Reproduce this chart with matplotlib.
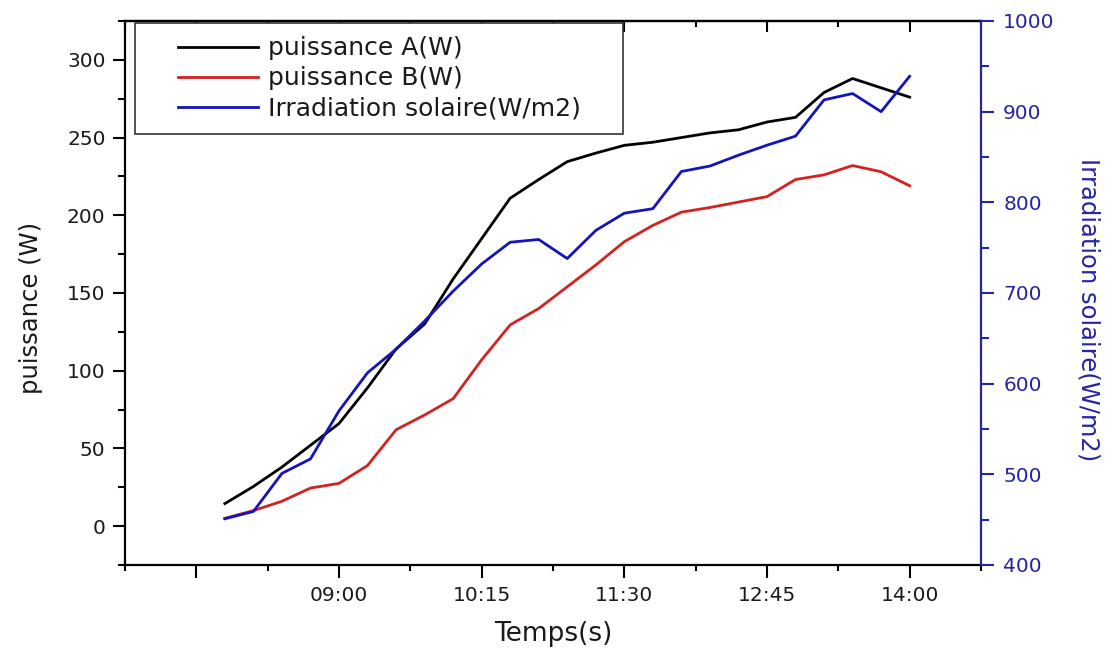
import numpy as np
import matplotlib.pyplot as plt
from matplotlib.ticker import MultipleLocator, FixedLocator
from matplotlib.lines import Line2D
from matplotlib.legend_handler import HandlerLine2D

# mesures toutes les 15 min
times = ['08:00', '08:15', '08:30', '08:45', '09:00', '09:15', '09:30', '09:45',
         '10:00', '10:15', '10:30', '10:45', '11:00', '11:15', '11:30', '11:45',
         '12:00', '12:15', '12:30', '12:45', '13:00', '13:15', '13:30', '13:45',
         '14:00']
puissance_a = [14.5, 25.5, 38, 52, 66, 89, 114, 130, 159, 185, 211, 223, 234.5,
               240, 245, 247, 250, 253, 255, 260, 263, 279, 288, 282, 276]
puissance_b = [5, 10, 16, 24.5, 27.5, 39, 62, 71.5, 82, 107, 129.5, 140, 154,
               168, 183, 193.5, 202, 205, 208.5, 212, 223, 226, 232, 228, 219]
irradiation = [451, 459, 501, 517, 570, 612, 638, 669, 702, 732, 756, 759, 738,
               769, 788, 793, 834, 840, 852, 863, 873, 913, 920, 900, 939]

tick_times = ['07:45', '09:00', '10:15', '11:30', '12:45', '14:00']
tick_labels = ['', '09:00', '10:15', '11:30', '12:45', '14:00']
minor_times = ['07:07:30', '08:22:30', '09:37:30', '10:52:30', '12:07:30',
               '13:22:30', '14:37:30']

black = '#000000'
red = '#d42121'
blue = '#1414b8'
axis_blue = '#2525a0'
txt = '#1a1a1a'


def to_hours(t):
    parts = [int(p) for p in t.split(':')]
    h = parts[0] + parts[1] / 60
    if len(parts) > 2:
        h += parts[2] / 3600
    return h


x = np.array([to_hours(t) for t in times])
xt = [to_hours(t) for t in tick_times]
xm = [to_hours(t) for t in minor_times]

plt.rcParams['font.family'] = ['DejaVu Sans']

fig = plt.figure(figsize=(11.15, 6.48), dpi=100)
ax = fig.add_axes([0.1121, 0.1281, 0.7677, 0.8395])

l1, = ax.plot(x, puissance_a, color=black, lw=2, label='puissance A(W)')
l2, = ax.plot(x, puissance_b, color=red, lw=2, label='puissance B(W)')
ax2 = ax.twinx()
l3, = ax2.plot(x, irradiation, color=blue, lw=2, label='Irradiation solaire(W/m2)')

ax.set_xlim(7.125, 14.625)
ax.set_ylim(-25, 325)
ax2.set_ylim(400, 1000)

ax.set_xticks(xt)
ax.set_xticklabels(tick_labels)
ax.xaxis.set_minor_locator(FixedLocator(xm))
ax.yaxis.set_major_locator(MultipleLocator(50))
ax.yaxis.set_minor_locator(MultipleLocator(25))
ax2.yaxis.set_major_locator(MultipleLocator(100))
ax2.yaxis.set_minor_locator(MultipleLocator(50))

for s in ['left', 'bottom', 'top']:
    ax.spines[s].set_linewidth(1.6)
ax.spines['right'].set_visible(False)
ax2.spines['left'].set_visible(False)
ax2.spines['top'].set_visible(False)
ax2.spines['bottom'].set_visible(False)
ax2.spines['right'].set_color(axis_blue)
ax2.spines['right'].set_linewidth(1.6)

ax.tick_params(axis='x', which='major', direction='out', length=9, width=1.5,
               pad=6, labelsize=14.5, labelcolor=txt)
ax.tick_params(axis='x', which='minor', direction='out', length=4.5, width=1.5)
ax.tick_params(axis='y', which='major', direction='out', length=9, width=1.5,
               pad=5, labelsize=14.5, labelcolor=txt)
ax.tick_params(axis='y', which='minor', direction='out', length=5, width=1.5)
ax2.tick_params(axis='y', which='major', direction='out', length=9, width=1.5,
                pad=7, labelsize=14.5, colors=axis_blue)
ax2.tick_params(axis='y', which='minor', direction='out', length=6, width=1.5,
                colors=axis_blue)

# ticks du haut vers l'interieur
top = ax.secondary_xaxis('top')
top.set_xticks(xt)
top.xaxis.set_minor_locator(FixedLocator(xm))
top.tick_params(which='major', direction='in', length=8, width=1.5, labeltop=False)
top.tick_params(which='minor', direction='in', length=4.5, width=1.5)
top.spines['top'].set_linewidth(1.6)

ax.set_xlabel('Temps(s)', fontsize=19, color=txt, va='center')
ax.xaxis.set_label_coords(0.5, -0.127)
ax.set_ylabel('puissance (W)', fontsize=17.5, color=txt, va='center')
ax.yaxis.set_label_coords(-0.110, 0.472)
ax2.set_ylabel('Irradiation solaire(W/m2)', fontsize=17.5, color=axis_blue,
               rotation=270, va='center')
ax2.yaxis.set_label_coords(1.126, 0.469)

leg = ax2.legend([l1, l2, l3], [l.get_label() for l in [l1, l2, l3]],
                 loc='upper left', bbox_to_anchor=(0.0117, 0.7963, 0.570, 0.2),
                 mode='expand', borderaxespad=0, fontsize=18, fancybox=False,
                 edgecolor='#333333', framealpha=1, handlelength=4.4,
                 handletextpad=0.4, labelspacing=0.24, borderpad=0.53,
                 handler_map={Line2D: HandlerLine2D(xpad=1.2)})
leg.get_frame().set_linewidth(1.2)
for t in leg.get_texts():
    t.set_color(txt)

fig.savefig('out.png', dpi=100)
